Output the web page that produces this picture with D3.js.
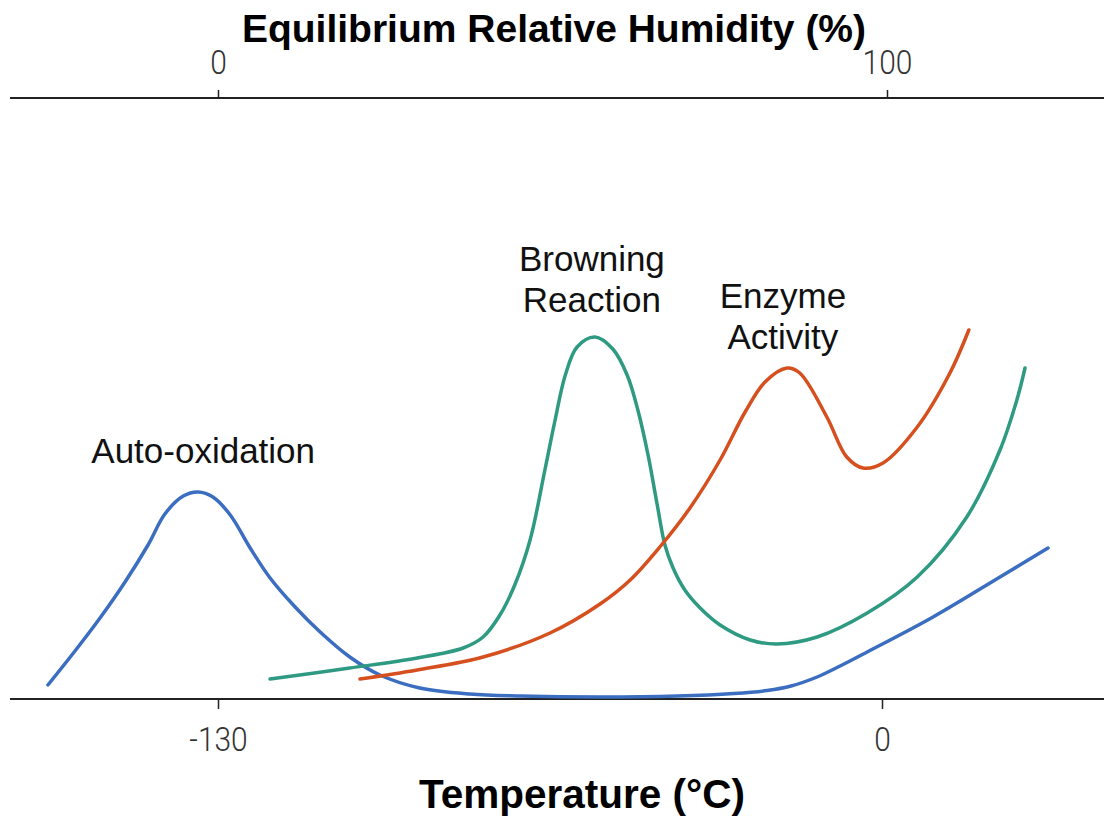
<!DOCTYPE html>
<html><head><meta charset="utf-8">
<script src="https://cdn.jsdelivr.net/npm/d3@7"></script>
<style>
html,body{margin:0;padding:0;background:#fff;}
svg{display:block;}
</style></head>
<body>
<svg id="chart" width="1104" height="816"></svg>
<script>
// Temperature (°C) and relative reaction rate (arbitrary 0-100)
const autoOxT = [-163.3,-158.0,-153.1,-148.2,-143.7,-140.4,-136.8,-133.9,-131.0,-127.6,-123.7,-119.8,-114.9,-110.0,-104.2,-98.3,-90.5,-80.7,-70.9,-55.2,-40.0,-29.0,-22.5,-17.8,-12.7,-8.2,-2.9,10.0,23.1,32.5];
const autoOxV = [2.8,9.6,16.2,23.4,30.8,37.0,40.6,41.4,40.4,36.8,30.2,24.2,18.4,13.4,8.4,4.8,2.2,1.0,0.6,0.4,0.6,1.1,1.7,2.6,4.4,6.6,9.4,16.4,24.4,30.2];

const browningT = [-119.8,-104.2,-91.0,-82.0,-78.1,-74.8,-71.9,-68.9,-66.0,-64.0,-62.0,-59.7,-56.2,-52.7,-49.9,-47.8,-45.8,-44.0,-42.5,-40.9,-38.6,-35.6,-31.7,-25.8,-20.6,-12.7,-2.9,6.9,16.6,23.1,26.4,28.0];
const browningV = [4.0,6.2,8.2,10.2,12.4,16.8,22.8,31.8,45.8,55.8,64.8,70.4,72.4,70.0,64.8,57.8,48.8,38.8,30.8,26.2,21.8,18.2,14.8,11.8,11.0,12.4,17.2,24.4,36.4,49.8,59.8,66.2];

const enzymeT = [-102.2,-91.0,-78.1,-65.0,-55.2,-49.3,-43.5,-37.6,-31.7,-26.8,-22.9,-18.6,-16.1,-10.8,-6.9,-3.7,0.2,6.9,13.3,17.0];
const enzymeV = [4.0,5.8,8.4,13.2,19.0,23.8,30.4,38.2,47.8,57.4,63.4,66.2,65.2,56.4,48.4,46.2,47.2,54.4,65.2,73.8];

const tempTicks = [-130, 0];
const humidityTicks = [0, 100];
const labelText = [["Auto-oxidation"], ["Browning","Reaction"], ["Enzyme","Activity"]];
const labelT = [-132.9, -56.8, -19.4];
const labelV = [47.2, 85.6, 78.2];

const svg = d3.select("#chart");
const x = d3.scaleLinear().domain([-130, 0]).range([218, 882]);
const xh = d3.scaleLinear().domain([0, 100]).range([218, 887]);
const y = d3.scaleLinear().domain([0, 100]).range([699, 199]);

const axisColor = "#222";
const tickFont = "Roboto, 'Liberation Sans', sans-serif";

// top axis
const topY = 98;
svg.append("line").attr("x1",10).attr("x2",1104).attr("y1",topY).attr("y2",topY)
  .attr("stroke",axisColor).attr("stroke-width",2);
const gTop = svg.append("g").attr("transform",`translate(0,${topY})`)
  .call(d3.axisTop(xh).tickValues(humidityTicks).tickSize(8).tickPadding(16).tickFormat(d=>String(d)));
gTop.select(".domain").remove();
gTop.selectAll(".tick line").attr("stroke",axisColor).attr("stroke-width",1.5);
gTop.selectAll(".tick text").attr("font-family",tickFont).attr("font-weight",300)
  .attr("font-size",34).attr("fill","#333").attr("transform","scale(0.88,1)");

// bottom axis
const botY = 699;
svg.append("line").attr("x1",10).attr("x2",1104).attr("y1",botY).attr("y2",botY)
  .attr("stroke",axisColor).attr("stroke-width",2);
const gBot = svg.append("g").attr("transform",`translate(0,${botY})`)
  .call(d3.axisBottom(x).tickValues(tempTicks).tickSize(10).tickPadding(18).tickFormat(d=>String(d)));
gBot.select(".domain").remove();
gBot.selectAll(".tick line").attr("stroke",axisColor).attr("stroke-width",1.5);
gBot.selectAll(".tick text").attr("font-family",tickFont).attr("font-weight",300)
  .attr("font-size",34).attr("fill","#333").attr("transform","scale(0.88,1)");

// titles
svg.append("text").attr("x",554).attr("y",42).attr("text-anchor","middle")
  .attr("font-family","'Liberation Sans',Arial,sans-serif").attr("font-weight","bold")
  .attr("font-size",39).attr("fill","#000").text("Equilibrium Relative Humidity (%)");
svg.append("text").attr("x",582).attr("y",808).attr("text-anchor","middle")
  .attr("font-family","'Liberation Sans',Arial,sans-serif").attr("font-weight","bold")
  .attr("font-size",40.5).attr("fill","#000").text("Temperature (°C)");

// curves
const line = d3.line().x(d=>x(d[0])).y(d=>y(d[1])).curve(d3.curveCatmullRom.alpha(0.5));
const series = [
  {t:autoOxT, v:autoOxV, color:"#3b6dc0"},
  {t:browningT, v:browningV, color:"#2f9a82"},
  {t:enzymeT, v:enzymeV, color:"#d5501e"}
];
series.forEach(s=>{
  svg.append("path").datum(d3.zip(s.t, s.v)).attr("d", line)
    .attr("fill","none").attr("stroke",s.color).attr("stroke-width",3.5)
    .attr("stroke-linecap","round").attr("stroke-linejoin","round");
});

// annotations
labelText.forEach((lines,k)=>{
  const t = svg.append("text").attr("text-anchor","middle")
    .attr("font-family","'Liberation Sans',Arial,sans-serif").attr("font-size",35).attr("fill","#111");
  lines.forEach((s,i)=>{
    t.append("tspan").attr("x", x(labelT[k])).attr("y", y(labelV[k]) + i*41).text(s);
  });
});
</script>
</body></html>
